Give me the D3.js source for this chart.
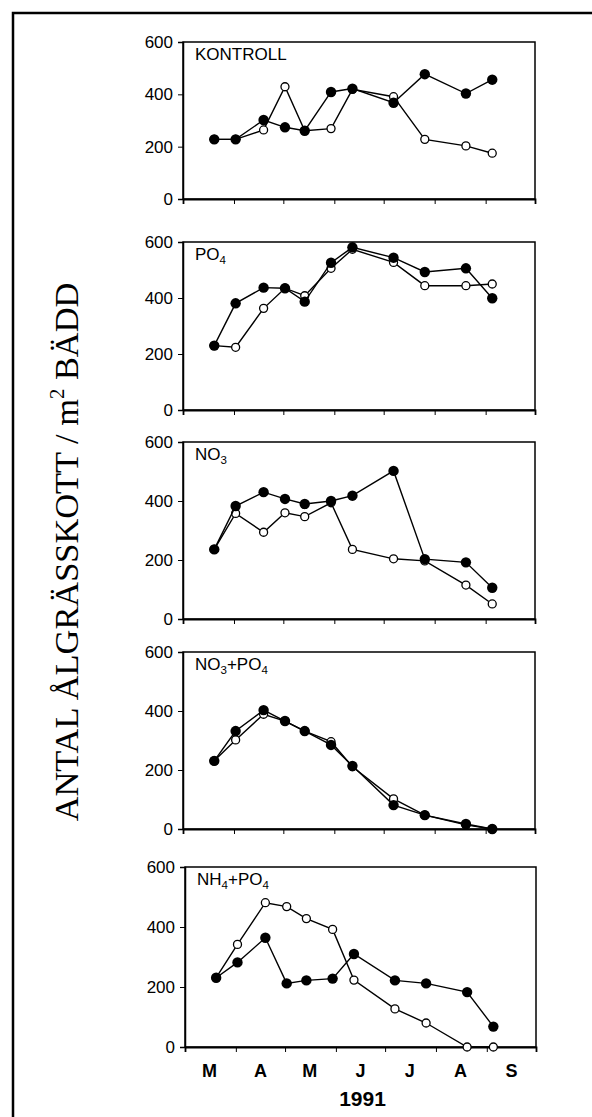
<!DOCTYPE html>
<html>
<head>
<meta charset="utf-8">
<script src="https://cdn.jsdelivr.net/npm/d3@7"></script>
<style>
  body { margin: 0; background: #fff; }
  svg { display: block; }
</style>
</head>
<body>
<div id="chart"></div>
<script>
// sampling dates, 1991
var sampleDates = ["1991-03-20", "1991-04-02", "1991-04-19", "1991-05-02", "1991-05-14", "1991-05-30",
                   "1991-06-12", "1991-07-07", "1991-07-26", "1991-08-20", "1991-09-05"];

var panelNames = ["KONTROLL", "PO4", "NO3", "NO3+PO4", "NH4+PO4"];

// filled circles / open circles for each treatment
var kontrollFilled = [228, 228, 302, 274, 261, 409, 422, 368, 477, 403, 456];
var kontrollOpen   = [228, 228, 264, 429, 261, 269, 419, 391, 228, 203, 175];
var po4Filled      = [230, 381, 437, 435, 387, 526, 581, 544, 493, 506, 399];
var po4Open        = [230, 224, 363, 435, 408, 506, 574, 527, 444, 444, 450];
var no3Filled      = [236, 383, 430, 407, 390, 400, 418, 502, 203, 192, 106];
var no3Open        = [236, 358, 294, 360, 347, 394, 236, 204, 197, 115, 51];
var no3po4Filled   = [231, 332, 403, 366, 332, 285, 214, 81, 47, 17, 0];
var no3po4Open     = [231, 302, 389, 366, 332, 296, 211, 102, 47, 14, 0];
var nh4po4Filled   = [231, 282, 364, 212, 222, 228, 310, 222, 212, 183, 68];
var nh4po4Open     = [231, 342, 481, 468, 428, 392, 223, 127, 80, 0, 0];

var filledSeries = [kontrollFilled, po4Filled, no3Filled, no3po4Filled, nh4po4Filled];
var openSeries = [kontrollOpen, po4Open, no3Open, no3po4Open, nh4po4Open];

var yTicks = [0, 200, 400, 600];
var monthLabels = ["M", "A", "M", "J", "J", "A", "S"];
var yearLabel = "1991";
var yTitle = "ANTAL ÅLGRÄSSKOTT / m";
var yTitleSup = "2";
var yTitleEnd = " BÄDD";

// panel boxes (pixels)
var panelTop = [42, 242, 442, 652, 867];
var panelBottom = [199, 410, 619, 829, 1047];
var panelLeft = [183, 183, 183, 183, 185];
var panelRight = [535, 535, 535, 535, 536];

var W = 592, H = 1117;
var parseDate = d3.timeParse("%Y-%m-%d");
var dates = sampleDates.map(parseDate);

var svg = d3.select("#chart").append("svg")
  .attr("width", W)
  .attr("height", H);

svg.append("rect")
  .attr("width", W).attr("height", H)
  .attr("fill", "#fff");

// outer frame (runs off the picture on right and bottom)
svg.append("rect")
  .attr("x", 13).attr("y", 13)
  .attr("width", 700).attr("height", 1300)
  .attr("fill", "none")
  .attr("stroke", "#000")
  .attr("stroke-width", 2.5);

function addLabel(sel, label, size) {
  // digits directly after a letter are subscripts
  var parts = label.match(/[A-Z+]+|\d/g);
  parts.forEach(function(p) {
    if (/\d/.test(p)) {
      sel.append("tspan").attr("font-size", size * 0.68).attr("dy", 4).text(p);
    } else {
      sel.append("tspan").attr("dy", sel.selectAll("tspan").size() > 0 ? -4 : 0).text(p);
    }
  });
}

panelNames.forEach(function(name, i) {
  var x = d3.scaleTime()
    .domain([new Date(1991, 2, 1), new Date(1991, 9, 1)])
    .range([panelLeft[i], panelRight[i]]);
  var y = d3.scaleLinear()
    .domain([0, 600])
    .range([panelBottom[i], panelTop[i]]);

  var g = svg.append("g");

  g.append("rect")
    .attr("x", panelLeft[i]).attr("y", panelTop[i])
    .attr("width", panelRight[i] - panelLeft[i])
    .attr("height", panelBottom[i] - panelTop[i])
    .attr("fill", "none")
    .attr("stroke", "#000")
    .attr("stroke-width", 1.5);

  var yAxis = g.append("g")
    .attr("transform", "translate(" + panelLeft[i] + ",0)")
    .call(d3.axisLeft(y).tickValues(yTicks).tickSize(5).tickPadding(5).tickFormat(d3.format("d")));
  yAxis.select(".domain").attr("stroke-width", 1.5);
  yAxis.selectAll("text").attr("font-family", "Liberation Sans, Arial, sans-serif").attr("font-size", 17).attr("fill", "#000");

  var xAxis = g.append("g")
    .attr("transform", "translate(0," + panelBottom[i] + ")")
    .call(d3.axisBottom(x).ticks(d3.timeMonth.every(1)).tickSize(5).tickFormat(""));
  xAxis.select(".domain").attr("stroke-width", 1.8);

  var lab = g.append("text")
    .attr("x", panelLeft[i] + 12)
    .attr("y", panelTop[i] + 22)
    .attr("font-family", "Liberation Sans, Arial, sans-serif")
    .attr("font-size", 17)
    .attr("fill", "#000");
  addLabel(lab, name, 17);

  var line = d3.line()
    .x(function(d, j) { return x(dates[j]); })
    .y(function(d) { return y(d); });

  // open series
  g.append("path")
    .datum(openSeries[i])
    .attr("fill", "none")
    .attr("stroke", "#000")
    .attr("stroke-width", 1.4)
    .attr("d", line);
  g.selectAll(".open")
    .data(openSeries[i])
    .enter()
    .append("circle")
    .attr("cx", function(d, j) { return x(dates[j]); })
    .attr("cy", function(d) { return y(d); })
    .attr("r", 4)
    .attr("fill", "#fff")
    .attr("stroke", "#000")
    .attr("stroke-width", 1.3);

  // filled series
  g.append("path")
    .datum(filledSeries[i])
    .attr("fill", "none")
    .attr("stroke", "#000")
    .attr("stroke-width", 1.4)
    .attr("d", line);
  g.selectAll(".filled")
    .data(filledSeries[i])
    .enter()
    .append("circle")
    .attr("cx", function(d, j) { return x(dates[j]); })
    .attr("cy", function(d) { return y(d); })
    .attr("r", 5.2)
    .attr("fill", "#000");

  // month labels under the last panel
  if (i == panelNames.length - 1) {
    g.selectAll(".month")
      .data(monthLabels)
      .enter()
      .append("text")
      .attr("x", function(d, j) { return x(new Date(1991, 2 + j, 16)); })
      .attr("y", panelBottom[i] + 30)
      .attr("text-anchor", "middle")
      .attr("font-family", "Liberation Sans, Arial, sans-serif")
      .attr("font-weight", "bold")
      .attr("font-size", 18)
      .text(function(d) { return d; });
    g.append("text")
      .attr("x", (panelLeft[i] + panelRight[i]) / 2 + 2)
      .attr("y", panelBottom[i] + 59)
      .attr("text-anchor", "middle")
      .attr("font-family", "Liberation Sans, Arial, sans-serif")
      .attr("font-weight", "bold")
      .attr("font-size", 21)
      .text(yearLabel);
  }
});

// y title, fitted to its length in the picture
var title = svg.append("text")
  .attr("transform", "translate(78,552) rotate(-90)")
  .attr("text-anchor", "middle")
  .attr("font-family", "Liberation Serif, Times New Roman, serif")
  .attr("font-size", 28)
  .attr("fill", "#000");
title.append("tspan").text(yTitle);
title.append("tspan").attr("font-size", 17).attr("dy", -11).text(yTitleSup);
title.append("tspan").attr("dy", 11).text(yTitleEnd);
var len = title.node().getComputedTextLength();
var fs = 28 * 539 / len;
title.attr("font-size", fs);
title.select("tspan:nth-child(2)").attr("font-size", fs * 0.6).attr("dy", -fs * 0.4);
title.select("tspan:nth-child(3)").attr("dy", fs * 0.4);
</script>
</body>
</html>
